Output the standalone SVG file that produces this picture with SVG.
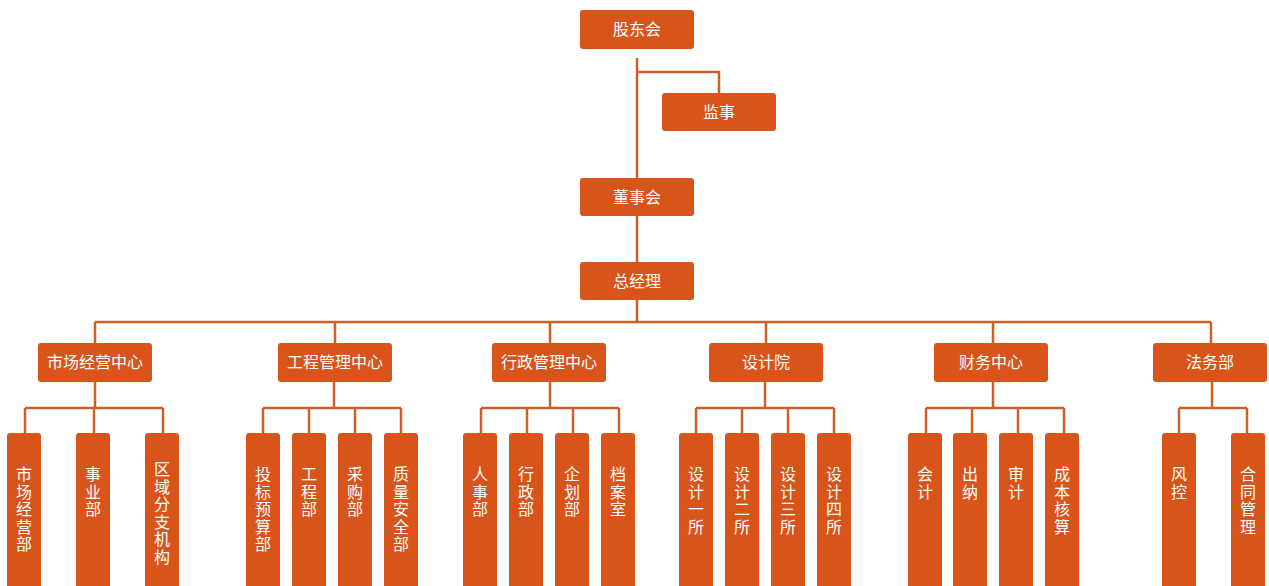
<svg xmlns="http://www.w3.org/2000/svg" width="1269" height="586" viewBox="0 0 1269 586">
<style>
.b{fill:#D9541A}
.t{fill:#fff;font-family:"Noto Sans CJK SC","Noto Sans CJK JP",sans-serif;font-size:16px;text-anchor:middle}
.v{fill:#fff;font-family:"Noto Sans CJK SC","Noto Sans CJK JP",sans-serif;font-size:16px;writing-mode:vertical-rl;text-orientation:upright;letter-spacing:1.5px}
.c{stroke:#CF5F28;stroke-width:2.5;fill:none}
</style>
<rect width="1269" height="586" fill="#fff"/>
<g id="connectors" class="c">
<path d="M637,58V179M637,72H719V93"/>
<path d="M637,216V262M637,299V322M95,322H1211M95,322V343M335,322V343M550,322V343M766,322V343M993,322V343M1211,322V343"/>
<path d="M95,382V408M25,408H163M25,408V433M94,408V433M163,408V433"/>
<path d="M334,382V408M263,408H401M263,408V433M309,408V433M355,408V433M401,408V433"/>
<path d="M550,382V408M481,408H619M481,408V433M527,408V433M573,408V433M619,408V433"/>
<path d="M765,382V408M696,408H834M696,408V433M742,408V433M788,408V433M834,408V433"/>
<path d="M993,382V408M926,408H1064M926,408V433M972,408V433M1018,408V433M1064,408V433"/>
<path d="M1212,382V408M1179,408H1247M1179,408V433M1247,408V433"/>
</g>
<g id="n_gdh"><rect class="b" x="580" y="10" width="114" height="39" rx="3"/><text class="t" x="637" y="35">股东会</text></g>
<g id="n_js"><rect class="b" x="662" y="93" width="114" height="38" rx="3"/><text class="t" x="719" y="118">监事</text></g>
<g id="n_dsh"><rect class="b" x="580" y="178" width="114" height="38" rx="3"/><text class="t" x="637" y="203">董事会</text></g>
<g id="n_zjl"><rect class="b" x="580" y="262" width="114" height="38" rx="3"/><text class="t" x="637" y="287">总经理</text></g>
<g id="n_sc"><rect class="b" x="38" y="343" width="114" height="39" rx="3"/><text class="t" x="95" y="368">市场经营中心</text></g>
<g id="n_gc"><rect class="b" x="278" y="343" width="114" height="39" rx="3"/><text class="t" x="335" y="368">工程管理中心</text></g>
<g id="n_xz"><rect class="b" x="492" y="343" width="114" height="39" rx="3"/><text class="t" x="549" y="368">行政管理中心</text></g>
<g id="n_sjy"><rect class="b" x="709" y="343" width="114" height="39" rx="3"/><text class="t" x="766" y="368">设计院</text></g>
<g id="n_cw"><rect class="b" x="934" y="343" width="114" height="39" rx="3"/><text class="t" x="991" y="368">财务中心</text></g>
<g id="n_fw"><rect class="b" x="1153" y="343" width="114" height="39" rx="3"/><text class="t" x="1210" y="368">法务部</text></g>
<g id="l1"><rect class="b" x="7" y="433" width="34" height="170" rx="3"/><text class="v" x="24" y="466">市场经营部</text></g>
<g id="l2"><rect class="b" x="76" y="433" width="34" height="170" rx="3"/><text class="v" x="93" y="466">事业部</text></g>
<g id="l3"><rect class="b" x="145" y="433" width="34" height="170" rx="3"/><text class="v" x="162" y="461">区域分支机构</text></g>
<g id="l4"><rect class="b" x="246" y="433" width="34" height="170" rx="3"/><text class="v" x="263" y="466">投标预算部</text></g>
<g id="l5"><rect class="b" x="292" y="433" width="34" height="170" rx="3"/><text class="v" x="309" y="466">工程部</text></g>
<g id="l6"><rect class="b" x="338" y="433" width="34" height="170" rx="3"/><text class="v" x="355" y="466">采购部</text></g>
<g id="l7"><rect class="b" x="384" y="433" width="34" height="170" rx="3"/><text class="v" x="401" y="466">质量安全部</text></g>
<g id="l8"><rect class="b" x="463" y="433" width="34" height="170" rx="3"/><text class="v" x="480" y="466">人事部</text></g>
<g id="l9"><rect class="b" x="509" y="433" width="34" height="170" rx="3"/><text class="v" x="526" y="466">行政部</text></g>
<g id="l10"><rect class="b" x="555" y="433" width="34" height="170" rx="3"/><text class="v" x="572" y="466">企划部</text></g>
<g id="l11"><rect class="b" x="601" y="433" width="34" height="170" rx="3"/><text class="v" x="618" y="466">档案室</text></g>
<g id="l12"><rect class="b" x="679" y="433" width="34" height="170" rx="3"/><text class="v" x="696" y="466">设计一所</text></g>
<g id="l13"><rect class="b" x="725" y="433" width="34" height="170" rx="3"/><text class="v" x="742" y="466">设计二所</text></g>
<g id="l14"><rect class="b" x="771" y="433" width="34" height="170" rx="3"/><text class="v" x="788" y="466">设计三所</text></g>
<g id="l15"><rect class="b" x="817" y="433" width="34" height="170" rx="3"/><text class="v" x="834" y="466">设计四所</text></g>
<g id="l16"><rect class="b" x="908" y="433" width="34" height="170" rx="3"/><text class="v" x="925" y="466">会计</text></g>
<g id="l17"><rect class="b" x="953" y="433" width="34" height="170" rx="3"/><text class="v" x="970" y="466">出纳</text></g>
<g id="l18"><rect class="b" x="999" y="433" width="34" height="170" rx="3"/><text class="v" x="1016" y="466">审计</text></g>
<g id="l19"><rect class="b" x="1045" y="433" width="34" height="170" rx="3"/><text class="v" x="1062" y="466">成本核算</text></g>
<g id="l20"><rect class="b" x="1162" y="433" width="34" height="170" rx="3"/><text class="v" x="1179" y="466">风控</text></g>
<g id="l21"><rect class="b" x="1231" y="433" width="34" height="170" rx="3"/><text class="v" x="1248" y="466">合同管理</text></g>
</svg>
